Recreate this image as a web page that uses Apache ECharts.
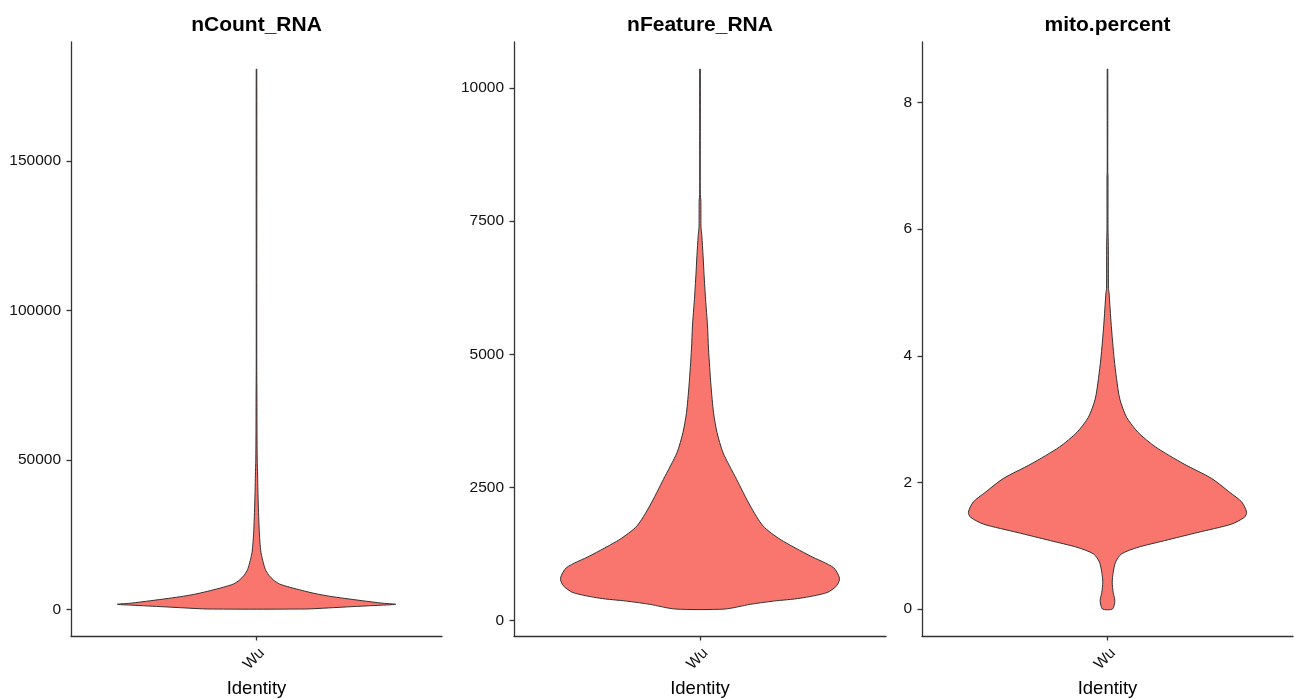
<!DOCTYPE html>
<html><head><meta charset="utf-8">
<script src="https://cdn.jsdelivr.net/npm/echarts@6/dist/echarts.min.js"></script>
<style>html,body{margin:0;padding:0;background:#fff}#c{width:1294px;height:699px}</style>
</head><body><div id="c"></div>
<script>
const panelTitles = ['nCount_RNA', 'nFeature_RNA', 'mito.percent'];
const identities = ['Wu'];

// violin profiles: value along y, scaled density (1 = widest point)
const nCountValues = [230, 600, 1000, 1400, 1800, 2200, 3000, 3800, 4500, 5400, 6400, 7500, 8600, 10000, 11400, 13000, 14700, 17000, 19200, 22500, 26000, 30000, 35000, 40000, 45000, 50000, 60000, 72000, 80000, 180800];
const nCountWidths = [0.35, 0.52, 0.68, 0.85, 1.0, 0.90, 0.76, 0.63, 0.525, 0.42, 0.33, 0.24, 0.165, 0.12, 0.091, 0.068, 0.055, 0.042, 0.032, 0.025, 0.020, 0.0165, 0.013, 0.010, 0.008, 0.005, 0.0036, 0.003, 0.002, 0.002];

const nFeatureValues = [212, 300, 360, 415, 520, 650, 790, 990, 1210, 1520, 1770, 2150, 2650, 3150, 3530, 3900, 4400, 5100, 5530, 6030, 6500, 6850, 7225, 7400, 7900, 8000, 10360];
const nFeatureWidths = [0.18, 0.36, 0.525, 0.72, 0.91, 0.98, 1.0, 0.957, 0.79, 0.575, 0.453, 0.36, 0.262, 0.165, 0.122, 0.097, 0.079, 0.061, 0.054, 0.040, 0.029, 0.022, 0.013, 0.007, 0.006, 0.002, 0.002];

const mitoValues = [0, 0.13, 0.26, 0.42, 0.58, 0.74, 0.87, 0.975, 1.08, 1.21, 1.34, 1.45, 1.53, 1.69, 1.84, 2.06, 2.29, 2.56, 2.79, 3.03, 3.32, 3.64, 3.95, 4.48, 5.0, 5.06, 5.74, 6.0, 6.85, 6.9, 8.53];
const mitoWidths = [0.036, 0.053, 0.041, 0.034, 0.041, 0.058, 0.10, 0.22, 0.41, 0.65, 0.89, 0.985, 1.0, 0.965, 0.88, 0.75, 0.55, 0.345, 0.22, 0.137, 0.088, 0.065, 0.048, 0.027, 0.011, 0.007, 0.006, 0.0036, 0.0036, 0.002, 0.002];

const nCountTicks = [0, 50000, 100000, 150000];
const nFeatureTicks = [0, 2500, 5000, 7500, 10000];
const mitoTicks = [0, 2, 4, 6, 8];

const panels = [
  { values: nCountValues, widths: nCountWidths, ticks: nCountTicks },
  { values: nFeatureValues, widths: nFeatureWidths, ticks: nFeatureTicks },
  { values: mitoValues, widths: mitoWidths, ticks: mitoTicks }
];

const FONT = 'Liberation Sans, Arial, sans-serif';
const gridBoxes = [
  { left: 71, width: 371 },
  { left: 514, width: 372 },
  { left: 922, width: 371 }
];
const TOP = 42, BOTTOM = 699 - 636;

function violinRenderer(values, widths) {
  return function (params, api) {
    const pts = [];
    for (let i = 0; i < values.length; i++) pts.push(api.coord([1 - 0.45 * widths[i], values[i]]));
    for (let i = values.length - 1; i >= 0; i--) pts.push(api.coord([1 + 0.45 * widths[i], values[i]]));
    return {
      type: 'polygon',
      shape: { points: pts, smooth: 0.25 },
      style: { fill: '#F8766D', stroke: '#333333', lineWidth: 1 }
    };
  };
}

const grids = [], xAxes = [], yAxes = [], series = [], titles = [];
panels.forEach((p, i) => {
  const g = gridBoxes[i];
  grids.push({ left: g.left, width: g.width, top: TOP, bottom: BOTTOM, containLabel: false, outerBoundsMode: 'none' });
  const vmin = Math.min(...p.values), vmax = Math.max(...p.values);
  const pad = 0.05 * (vmax - vmin);
  titles.push({
    text: panelTitles[i], left: g.left + g.width / 2, textAlign: 'center', top: 15, padding: 0,
    textStyle: { fontFamily: FONT, fontSize: 21, fontWeight: 'bold', color: '#000' }
  });
  xAxes.push({
    type: 'value', gridIndex: i, min: 0.4, max: 1.6,
    name: 'Identity', nameLocation: 'middle', nameGap: 43,
    nameTextStyle: { fontFamily: FONT, fontSize: 18.5, color: '#000' },
    axisLine: { show: true, onZero: false, lineStyle: { color: '#333', width: 1.3 } },
    axisTick: { show: true, length: 4.5, customValues: [1], lineStyle: { color: '#333', width: 1.3 } },
    axisLabel: {
      customValues: [1], formatter: () => identities[0], rotate: 45, margin: 9, verticalAlign: 'top',
      fontFamily: FONT, fontSize: 15.5, color: '#111'
    },
    splitLine: { show: false }
  });
  yAxes.push({
    type: 'value', gridIndex: i, min: vmin - pad, max: vmax + pad,
    axisLine: { show: true, onZero: false, lineStyle: { color: '#333', width: 1.3 } },
    axisTick: { show: true, length: 4.5, customValues: p.ticks, lineStyle: { color: '#333', width: 1.3 } },
    axisLabel: { customValues: p.ticks, formatter: v => String(v), margin: 10, fontFamily: FONT, fontSize: 15.5, color: '#111' },
    splitLine: { show: false }
  });
  series.push({
    type: 'custom', xAxisIndex: i, yAxisIndex: i,
    renderItem: violinRenderer(p.values, p.widths),
    data: [[1, vmin]], encode: { x: 0, y: 1 }, silent: true
  });
});

const chart = echarts.init(document.getElementById('c'), null, { renderer: 'canvas' });
chart.setOption({
  animation: false, backgroundColor: '#fff',
  title: titles, grid: grids, xAxis: xAxes, yAxis: yAxes, series: series
});
</script></body></html>
